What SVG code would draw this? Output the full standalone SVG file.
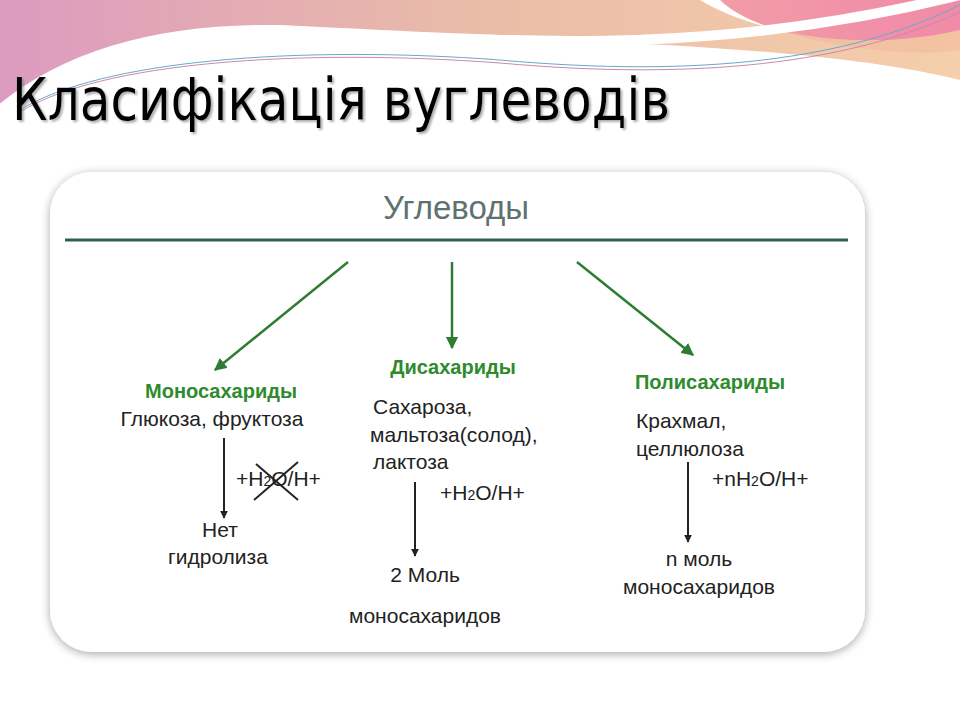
<svg xmlns="http://www.w3.org/2000/svg" width="960" height="720" viewBox="0 0 960 720">
<defs>
<linearGradient id="bg1" x1="0" y1="0" x2="1" y2="0"><stop offset="0" stop-color="#d98fb8"/><stop offset="0.5" stop-color="#e8b59e"/><stop offset="1" stop-color="#f4c9a2"/></linearGradient>
<linearGradient id="bg2" x1="0" y1="0" x2="1" y2="0"><stop offset="0" stop-color="#f6d2a0"/><stop offset="1" stop-color="#f08aa8"/></linearGradient>
<filter id="sh" x="-10%" y="-10%" width="120%" height="120%"><feGaussianBlur in="SourceAlpha" stdDeviation="5"/><feOffset dx="0" dy="2"/><feComponentTransfer><feFuncA type="linear" slope="0.35"/></feComponentTransfer><feMerge><feMergeNode/><feMergeNode in="SourceGraphic"/></feMerge></filter>
<filter id="tsh"><feDropShadow dx="2" dy="2" stdDeviation="1" flood-color="#777" flood-opacity="0.6"/></filter>
<marker id="ag" viewBox="0 0 10 10" refX="9" refY="5" markerWidth="5" markerHeight="5" orient="auto"><path d="M0,0L10,5L0,10z" fill="#2e7d32"/></marker>
<marker id="ak" viewBox="0 0 10 10" refX="9" refY="5" markerWidth="4" markerHeight="4" orient="auto"><path d="M0,0L10,5L0,10z" fill="#222"/></marker>
</defs>
<style>
.g{font-family:"Liberation Sans",Arial,sans-serif;font-weight:bold;font-size:20px;fill:#2e8b2e;text-anchor:middle}
.t{font-family:"Liberation Sans",Arial,sans-serif;font-size:21px;fill:#222}
.c{text-anchor:middle}
.ga{stroke:#2e7d32;stroke-width:2.5;marker-end:url(#ag)}
.ka{stroke:#222;stroke-width:2;marker-end:url(#ak)}
</style>
<rect width="960" height="720" fill="#fff"/>
<path d="M0,0H720C760,40 900,60 960,50V0Z" fill="url(#bg2)"/>
<path d="M0,0H700C750,30 850,55 960,30V80C800,40 500,40 280,30C150,28 60,60 0,110Z" fill="url(#bg1)" opacity="0.9"/>
<path d="M0,110C60,60 150,28 280,30C500,40 700,60 960,-5" fill="none" stroke="#fff" stroke-width="10"/>
<path d="M20,110C100,60 300,45 500,60C700,78 850,60 960,5" fill="none" stroke="#6ac" stroke-width="1"/>
<path d="M20,112C100,62 300,48 500,63C700,81 850,63 960,12" fill="none" stroke="#c8a" stroke-width="1"/>
<text x="12" y="120" font-family="'DejaVu Sans Condensed','Liberation Sans',sans-serif" font-size="58" fill="#000" textLength="658" lengthAdjust="spacingAndGlyphs" filter="url(#tsh)">Класифікація вуглеводів</text>
<g id="card"><rect x="50" y="172" width="815" height="480" rx="42" fill="#fff" filter="url(#sh)"/></g>
<g id="root"><text x="456" y="219" font-family="'Liberation Sans',Arial,sans-serif" font-size="33" fill="#5f7272" text-anchor="middle">Углеводы</text>
<line x1="65" y1="240" x2="848" y2="240" stroke="#2f5f5a" stroke-width="3"/></g>
<g id="connectors">
<line class="ga" x1="348" y1="262" x2="215" y2="370"/>
<line class="ga" x1="452" y1="262" x2="452" y2="348"/>
<line class="ga" x1="577" y1="262" x2="693" y2="355"/>
<line class="ka" x1="224" y1="438" x2="224" y2="518"/>
<line class="ka" x1="415" y1="482" x2="415" y2="556"/>
<line class="ka" x1="688" y1="462" x2="688" y2="542"/>
</g>
<g id="mono">
<text class="g" x="221" y="398">Моносахариды</text>
<text class="t c" x="212" y="426">Глюкоза, фруктоза</text>
<text class="t" x="236" y="486">+H<tspan font-size="14">2</tspan>O/H+</text>
<line x1="254" y1="500" x2="298" y2="462" stroke="#222" stroke-width="2"/>
<line x1="256" y1="464" x2="298" y2="500" stroke="#222" stroke-width="2"/>
<text class="t c" x="220" y="537">Нет</text>
<text class="t c" x="218" y="564">гидролиза</text>
</g>
<g id="di">
<text class="g" x="453" y="374">Дисахариды</text>
<text class="t" x="373" y="414">Сахароза,</text>
<text class="t" x="370" y="442">мальтоза(солод),</text>
<text class="t" x="373" y="469">лактоза</text>
<text class="t" x="440" y="500">+H<tspan font-size="14">2</tspan>O/H+</text>
<text class="t c" x="425" y="582">2 Моль</text>
<text class="t c" x="425" y="623">моносахаридов</text>
</g>
<g id="poly">
<text class="g" x="710" y="389">Полисахариды</text>
<text class="t" x="636" y="428">Крахмал,</text>
<text class="t" x="636" y="456">целлюлоза</text>
<text class="t" x="712" y="486">+nH<tspan font-size="14">2</tspan>O/H+</text>
<text class="t c" x="699" y="566">n моль</text>
<text class="t c" x="699" y="594">моносахаридов</text>
</g>
</svg>
